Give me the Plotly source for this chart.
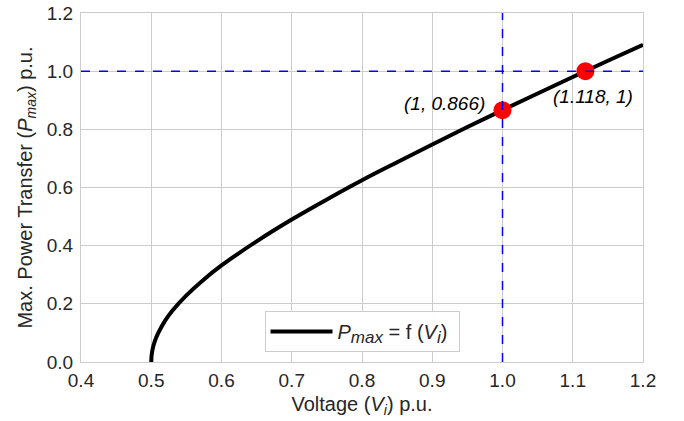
import plotly.graph_objects as go

# Curve values
voltage = [0.5, 0.5005, 0.502, 0.505, 0.51, 0.52, 0.53, 0.55, 0.575, 0.6, 0.65, 0.7,
           0.75, 0.8, 0.85, 0.9, 0.95, 1.0, 1.05, 1.1, 1.15, 1.2]
pmax = [0.0, 0.022, 0.045, 0.071, 0.100, 0.143, 0.176, 0.229, 0.284, 0.332, 0.415, 0.490,
        0.559, 0.625, 0.687, 0.748, 0.808, 0.866, 0.923, 0.980, 1.036, 1.091]

# Marked points
pt_x = [1.0, 1.118]
pt_y = [0.866, 1.0]
pt_labels = ["(1, 0.866)", "(1.118, 1)"]

ref_v = 1.0
ref_p = 1.0

x_ticks = [0.4, 0.5, 0.6, 0.7, 0.8, 0.9, 1.0, 1.1, 1.2]
y_ticks = [0.0, 0.2, 0.4, 0.6, 0.8, 1.0, 1.2]

FONT = "Liberation Sans, Arial, sans-serif"
TXT = "#262626"

fig = go.Figure()

legend_name = ("<i>P</i><sub><i><span style=\"font-size:17px\">max</span></i></sub> = f "
               "(<i>V</i><sub><i><span style=\"font-size:17px\">i</span></i></sub>)&nbsp;")

fig.add_trace(go.Scatter(
    x=voltage, y=pmax, mode="lines", line=dict(color="black", width=4, shape="spline"),
    name=legend_name, showlegend=True))

fig.add_trace(go.Scatter(
    x=pt_x, y=pt_y, mode="markers", marker=dict(color="red", size=18),
    showlegend=False, hoverinfo="skip"))

fig.add_shape(type="line", xref="x", yref="paper", x0=ref_v, x1=ref_v, y0=0, y1=1,
              line=dict(color="blue", width=1.5, dash="dash"))
fig.add_shape(type="line", xref="paper", yref="y", x0=0, x1=1, y0=ref_p, y1=ref_p,
              line=dict(color="blue", width=1.5, dash="dash"))

fig.add_annotation(x=pt_x[0], y=pt_y[0], text="<i>" + pt_labels[0] + "</i>", showarrow=False,
                   xanchor="right", yanchor="middle", xshift=-16, yshift=7,
                   font=dict(size=19, color="black", family=FONT))
fig.add_annotation(x=pt_x[1], y=pt_y[1], text="<i>" + pt_labels[1] + "</i>", showarrow=False,
                   xanchor="center", yanchor="middle", xshift=8, yshift=-25,
                   font=dict(size=19, color="black", family=FONT))

axis_common = dict(showgrid=True, gridcolor="#cccccc", gridwidth=1, showline=True,
                   linecolor="#cccccc", linewidth=1, mirror=True, zeroline=False,
                   ticks="", automargin=False,
                   tickfont=dict(size=19, color=TXT, family=FONT))

fig.update_xaxes(range=[0.4, 1.2], tickvals=x_ticks, tickformat=".1f", ticklabelstandoff=1,
                 title=dict(text="Voltage (<i>V<sub>i</sub></i>) p.u.", font=dict(size=20, color=TXT, family=FONT), standoff=7),
                 **axis_common)
fig.update_yaxes(range=[0, 1.2], tickvals=y_ticks, tickformat=".1f", ticklabelstandoff=3,
                 title=dict(text="Max. Power Transfer (<i>P<sub>max</sub></i>) p.u.", font=dict(size=20, color=TXT, family=FONT), standoff=8),
                 **axis_common)

fig.update_layout(
    width=684, height=421,
    margin=dict(l=81, r=41, t=13, b=59),
    plot_bgcolor="white", paper_bgcolor="white",
    font=dict(family=FONT, color=TXT),
    legend=dict(x=0.5, y=0.029, xanchor="center", yanchor="bottom",
                bgcolor="rgba(255,255,255,0.95)", bordercolor="#cccccc", borderwidth=1,
                itemwidth=62,
                font=dict(size=20, color=TXT, family=FONT)),
)

# remove the browser's default 8px body margin so the figure sits at the page's top-left
fig.write_html("out.html", config={"displayModeBar": False},
               post_script="document.body.style.margin='0';")
